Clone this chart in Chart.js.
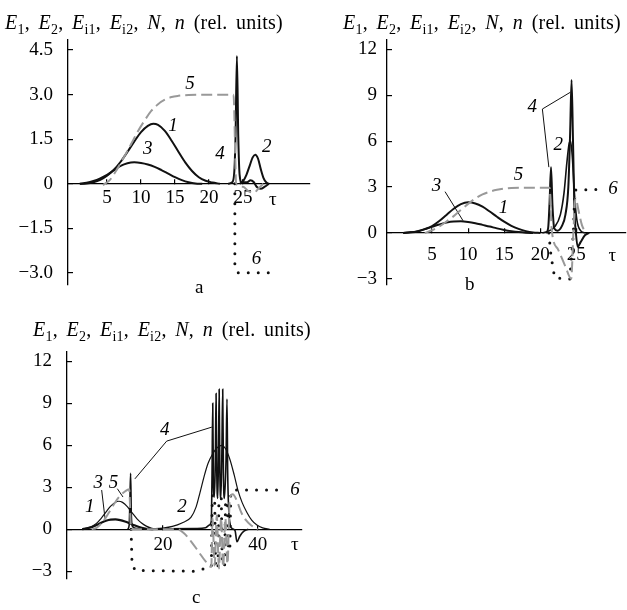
<!DOCTYPE html>
<html>
<head>
<meta charset="utf-8">
<script src="https://cdn.jsdelivr.net/npm/chart.js@4.4.0/dist/chart.umd.min.js"></script>
<style>
  body { margin: 0; background: #fff; }
  #wrap { position: relative; width: 627px; height: 610px; font-family: "Liberation Serif", "Times New Roman", serif; color: #000; }
  canvas { position: absolute; left: 0; top: 0; }
  .ttl { position: absolute; font-size: 20px; line-height: 20px; white-space: nowrap; word-spacing: 3.5px; letter-spacing: 0.2px; }
  .ttl sub { font-size: 14px; line-height: 0; }
  .let { position: absolute; font-size: 19px; line-height: 20px; }
</style>
</head>
<body>
<div id="wrap">
  <canvas id="chartA" width="627" height="610"></canvas>
  <canvas id="chartB" width="627" height="610"></canvas>
  <canvas id="chartC" width="627" height="610"></canvas>
  <div class="ttl" style="left:5px; top:12px;"><i>E</i><sub>1</sub>, <i>E</i><sub>2</sub>, <i>E</i><sub>i1</sub>, <i>E</i><sub>i2</sub>, <i>N</i>, <i>n</i> (rel. units)</div>
  <div class="ttl" style="left:343px; top:12px;"><i>E</i><sub>1</sub>, <i>E</i><sub>2</sub>, <i>E</i><sub>i1</sub>, <i>E</i><sub>i2</sub>, <i>N</i>, <i>n</i> (rel. units)</div>
  <div class="ttl" style="left:33px; top:319px;"><i>E</i><sub>1</sub>, <i>E</i><sub>2</sub>, <i>E</i><sub>i1</sub>, <i>E</i><sub>i2</sub>, <i>N</i>, <i>n</i> (rel. units)</div>
  <div class="let" style="left:195px; top:277px;">a</div>
  <div class="let" style="left:465px; top:274px;">b</div>
  <div class="let" style="left:192px; top:587px;">c</div>
</div>
<script>
const SERIF = '"Liberation Serif", "Times New Roman", serif';

// ---- panel a ----
const aTicksX = [5, 10, 15, 20, 25];
const aTicksY = [-3, -1.5, 0, 1.5, 3, 4.5];
const aLabelsY = ['−3.0', '−1.5', '0', '1.5', '3.0', '4.5'];
const aE1 = [[1,0],[2,0.01],[3,0.05],[4,0.13],[5,0.27],[6,0.47],[7,0.74],[8,1.07],[9,1.42],[10,1.74],[11,1.95],[11.8,2.02],[12.5,1.98],[13.5,1.78],[14.5,1.45],[15.5,1.08],[16.5,0.72],[17.5,0.43],[18.5,0.22],[19.5,0.1],[20.5,0.04],[21.6,0]];
const aE2 = [[24.5,0],[25,0.08],[25.5,0.3],[26,0.62],[26.4,0.88],[26.8,0.98],[27.2,0.85],[27.6,0.5],[28,0.2],[28.4,0.05],[28.8,0]];
const aEi1 = [[1,0],[2,0.03],[3,0.09],[4,0.18],[5,0.3],[6,0.45],[7,0.6],[8,0.69],[9,0.72],[10,0.7],[11,0.65],[12,0.57],[13,0.46],[14,0.34],[15,0.22],[16,0.12],[17,0.05],[18,0.01],[19,0]];
const aEi2 = [[22.8,0],[23.4,0.05],[23.7,0.35],[23.9,1.6],[24.1,4.3],[24.3,1.6],[24.5,0.3],[24.8,0.05],[25.6,0.05],[26.1,0.12],[26.6,0.05],[27,-0.1],[27.6,-0.17],[28.2,-0.1],[28.8,0]];
const aN = [[4.4,-0.05],[5.5,0.15],[6.5,0.5],[7.5,0.9],[8.5,1.32],[9.5,1.75],[10.5,2.12],[11.5,2.45],[12.5,2.68],[13.5,2.83],[14.5,2.92],[15.5,2.96],[17,2.99],[19,3],[23.6,3],[24,0],[25,-0.1],[25.8,-0.25],[26.6,-0.3],[27.3,-0.15],[28,0]];
const an = [[23.8,0],[23.8,-2.8],[24.3,-3],[30,-3]];
const aNames = [['1',14.7,1.93],['2',28.5,1.24],['3',11,1.17],['4',21.6,1.0],['5',17.2,3.36],['6',27,-2.54]];
const aTau = [29.4, -0.54];

// ---- panel b ----
const bTicksX = [5, 10, 15, 20, 25];
const bTicksY = [-3, 0, 3, 6, 9, 12];
const bLabelsY = ['−3', '0', '3', '6', '9', '12'];
const bE1 = [[1,0],[2,0.04],[3,0.1],[4,0.25],[5,0.45],[6,0.78],[7,1.18],[8,1.58],[9,1.88],[10,2.0],[11,1.93],[12,1.72],[13,1.4],[14,1.06],[15,0.74],[16,0.47],[17,0.27],[18,0.12],[19,0.03],[20,0]];
const bE2 = [[20.3,0],[21,0.1],[22,0.4],[22.8,1.2],[23.3,2.6],[23.7,4.6],[24,5.8],[24.2,6.0],[24.45,5],[24.75,2.5],[25.1,0.8],[25.6,0.15],[26.2,0]];
const bEi1 = [[1,0],[2,0.04],[3,0.12],[4,0.25],[5,0.4],[6,0.55],[7,0.68],[8,0.75],[9,0.76],[10,0.72],[11,0.64],[12,0.53],[13,0.42],[14,0.3],[15,0.2],[16,0.12],[17,0.06],[18,0.02],[19,0]];
const bEi2 = [[20.8,0],[21.1,0.3],[21.3,2],[21.5,4.3],[21.7,1.8],[21.95,0.3],[22.4,0.15],[23,0.45],[23.5,1.2],[23.9,3],[24.15,6.5],[24.35,10],[24.55,6],[24.75,1.5],[24.95,0],[25.2,-0.9],[25.6,-0.6],[26.2,-0.15],[26.8,0]];
const bN = [[4,0],[5,0.18],[6,0.42],[7,0.75],[8,1.1],[9,1.5],[10,1.9],[11,2.25],[12,2.52],[13,2.7],[14,2.82],[15,2.9],[16,2.94],[18,2.95],[21.3,2.95],[21.6,0.2],[22.5,-1.1],[23.5,-2.2],[24.3,-3],[24.6,0],[24.9,2.3],[25.3,1.5],[25.8,0.5],[26.4,0]];
const bn = [[21.2,0],[21.5,-1.5],[22,-2.9],[23.2,-3],[24.1,-3],[24.6,0],[24.8,2.8],[28.3,2.85]];
const bNames = [['1',14.9,1.6],['2',22.5,5.75],['3',5.6,3.1],['4',18.9,8.2],['5',17,3.8],['6',30.1,2.9]];
const bTau = [30, -1.5];
const bLead3 = [[6.8,2.7],[9.3,0.8]];
const bLead4 = [[24.2,9.2],[20.3,8.1],[21.2,4.3]];

// ---- panel c ----
const cTicksX = [20, 40];
const cTicksY = [-3, 0, 3, 6, 9, 12];
const cLabelsY = ['−3', '0', '3', '6', '9', '12'];
const cE1 = [[3,0],[4,0.08],[5,0.2],[6,0.42],[7,0.78],[8,1.22],[9,1.65],[10,1.93],[10.7,2.0],[11.5,1.92],[12.5,1.62],[13.5,1.18],[14.5,0.76],[15.5,0.44],[16.5,0.22],[17.5,0.08],[19,0]];
const cE2 = [[16,0],[18,0.03],[20,0.08],[22,0.2],[24,0.45],[25.9,0.85],[27,1.6],[27.8,2.6],[28.7,3.8],[29.5,4.7],[30.5,5.4],[31.5,5.85],[32.4,6.0],[33.2,5.75],[34.1,5.0],[35,3.9],[35.8,2.8],[36.7,1.9],[37.7,1.2],[38.7,0.65],[39.8,0.3],[41,0.1],[42.5,0]];
const cEi1 = [[3,0],[4,0.06],[5,0.15],[6,0.3],[7,0.47],[8,0.61],[9,0.69],[10,0.7],[11,0.65],[12,0.55],[13,0.42],[14,0.28],[15,0.16],[16,0.07],[17,0.02],[18,0]];
const cEi2 = [[12.6,0],[12.9,0.3],[13.05,2],[13.2,4],[13.35,1],[13.6,0.2],[14.5,0.05],[20,0.03],[27,0.05],[29,0.1],[29.8,0.3],[30.2,0.6],[30.35,4],[30.5,9],[30.65,3],[30.85,2.3],[31.05,5],[31.2,9.7],[31.35,4],[31.55,2.2],[31.7,5],[31.85,10],[32.0,4],[32.2,2.2],[32.4,5],[32.6,10],[32.75,4],[32.95,2.2],[33.3,5],[33.5,9.3],[33.65,4],[33.85,1.5],[34.2,0.3],[34.6,0.05],[35.2,-0.1],[35.6,-0.9],[36.2,-0.5],[37,-0.15],[38,0]];
const cN = [[5,0],[6,0.1],[7,0.4],[8,0.85],[9,1.4],[10,1.95],[11,2.4],[12,2.7],[12.9,2.85],[13.3,0],[23,0],[24.5,-0.3],[26,-0.9],[27.5,-1.6],[29,-2.3],[30.2,-2.7],[30.45,0.8],[30.9,-2.6],[31.35,1],[31.8,-2.8],[32.25,0.8],[32.7,-2.7],[33.15,0.8],[33.6,-2.5],[34.1,2.2],[34.7,2.5],[35.5,2.1],[36.5,1.2],[37.5,0.65],[38.5,0.3],[40,0]];
const cn = [[13.3,0],[13.5,-2.6],[14.3,-2.95],[26.5,-3],[29.5,-2.75],[30.2,-2.7],[30.4,2.4],[30.9,2.4],[31.1,-2.8],[31.6,-2.8],[31.8,2.2],[32.3,2.2],[32.5,-2.6],[33,-2.6],[33.2,2.0],[33.6,2.0],[33.8,-1.5],[34.1,-1.5],[34.3,2.6],[35,2.8],[44.8,2.8]];
const cNames = [['1',4.6,1.6],['2',24,1.6],['3',6.4,3.3],['4',20.4,7.1],['5',9.6,3.3],['6',47.8,2.8]];
const cTau = [47.8, -1.1];
const cLead3 = [[7.1,2.8],[7.8,0.8]];
const cLead5 = [[10.4,2.9],[11.6,2.3]];
const cLead4 = [[30.3,7.3],[20.8,6.3],[14.1,3.6]];

// line styles
const pts = arr => arr.map(p => ({x: p[0], y: p[1]}));
const solid = (arr, w) => ({data: pts(arr), borderColor: '#111', borderWidth: w, cubicInterpolationMode: 'monotone'});
const dashed = arr => ({data: pts(arr), borderColor: '#999', borderWidth: 2, borderDash: [11, 5], cubicInterpolationMode: 'monotone'});
const dotted = arr => ({data: pts(arr), borderColor: '#111', borderWidth: 3, borderDash: [0, 10], borderCapStyle: 'round', tension: 0});
const lead = arr => ({data: pts(arr), borderColor: '#111', borderWidth: 1, tension: 0});

const curveLabels = {
  id: 'curveLabels',
  afterDatasetsDraw(chart, args, opts) {
    const {ctx} = chart;
    const x = chart.scales.x, y = chart.scales.y;
    ctx.save();
    ctx.fillStyle = '#000';
    ctx.textAlign = 'center';
    ctx.textBaseline = 'middle';
    ctx.font = 'italic 19px ' + SERIF;
    opts.names.forEach(n => ctx.fillText(n[0], x.getPixelForValue(n[1]), y.getPixelForValue(n[2])));
    ctx.font = '19px ' + SERIF;
    ctx.fillText('τ', x.getPixelForValue(opts.tau[0]), y.getPixelForValue(opts.tau[1]));
    ctx.restore();
  }
};

function makePanel(id, p) {
  const font = {family: SERIF, size: 19};
  return new Chart(document.getElementById(id), {
    type: 'line',
    data: {datasets: p.datasets},
    options: {
      responsive: false,
      animation: false,
      devicePixelRatio: 1,
      layout: {padding: p.pad},
      elements: {point: {radius: 0}, line: {fill: false}},
      plugins: {
        legend: {display: false},
        tooltip: {enabled: false},
        curveLabels: {names: p.names, tau: p.tau}
      },
      scales: {
        x: {
          type: 'linear', min: p.x[0], max: p.x[1], position: {y: 0},
          afterBuildTicks: s => { s.ticks = p.ticksX.map(v => ({value: v})); },
          ticks: {font: font, color: '#000', padding: p.xPad, autoSkip: false, maxRotation: 0},
          grid: {display: true, drawOnChartArea: false, tickLength: -5, color: '#000', lineWidth: 1.2},
          border: {color: '#000', width: 1.3}
        },
        y: {
          type: 'linear', min: p.y[0], max: p.y[1], position: 'left',
          afterFit: s => { s.width = 60; },
          afterBuildTicks: s => { s.ticks = p.ticksY.map(v => ({value: v})); },
          ticks: {font: font, color: '#000', padding: p.yPad, autoSkip: false, callback: (v, i) => p.labelsY[i]},
          grid: {display: true, drawOnChartArea: false, tickLength: -5, color: '#000', lineWidth: 1.2},
          border: {color: '#000', width: 1.3}
        }
      }
    },
    plugins: [curveLabels]
  });
}

makePanel('chartA', {
  pad: {left: 8, top: 40, right: 317, bottom: 325},
  x: [-0.74, 34.85], y: [-3.41, 4.84],
  ticksX: aTicksX, ticksY: aTicksY, labelsY: aLabelsY, xPad: 8, yPad: 20,
  names: aNames, tau: aTau,
  datasets: [dashed(aN), dotted(an), solid(aEi1, 2), solid(aE1, 2), solid(aE2, 2), solid(aEi2, 2)]
});

makePanel('chartB', {
  pad: {left: 327, top: 40, right: 1, bottom: 325},
  x: [-1.25, 31.9], y: [-3.4, 12.61],
  ticksX: bTicksX, ticksY: bTicksY, labelsY: bLabelsY, xPad: 16, yPad: 15,
  names: bNames, tau: bTau,
  datasets: [dashed(bN), dotted(bn), solid(bEi1, 2), solid(bE1, 2), solid(bE2, 1.6), solid(bEi2, 2), lead(bLead3), lead(bLead4)]
});

makePanel('chartC', {
  pad: {left: 7, top: 352, right: 325, bottom: 15},
  x: [-0.2, 49.3], y: [-3.53, 12.67],
  ticksX: cTicksX, ticksY: cTicksY, labelsY: cLabelsY, xPad: 9, yPad: 20,
  names: cNames, tau: cTau,
  datasets: [dashed(cN), dotted(cn), solid(cEi1, 2.2), solid(cE1, 1.2), solid(cE2, 1.2), solid(cEi2, 1.6), lead(cLead3), lead(cLead5), lead(cLead4)]
});
</script>
</body>
</html>
